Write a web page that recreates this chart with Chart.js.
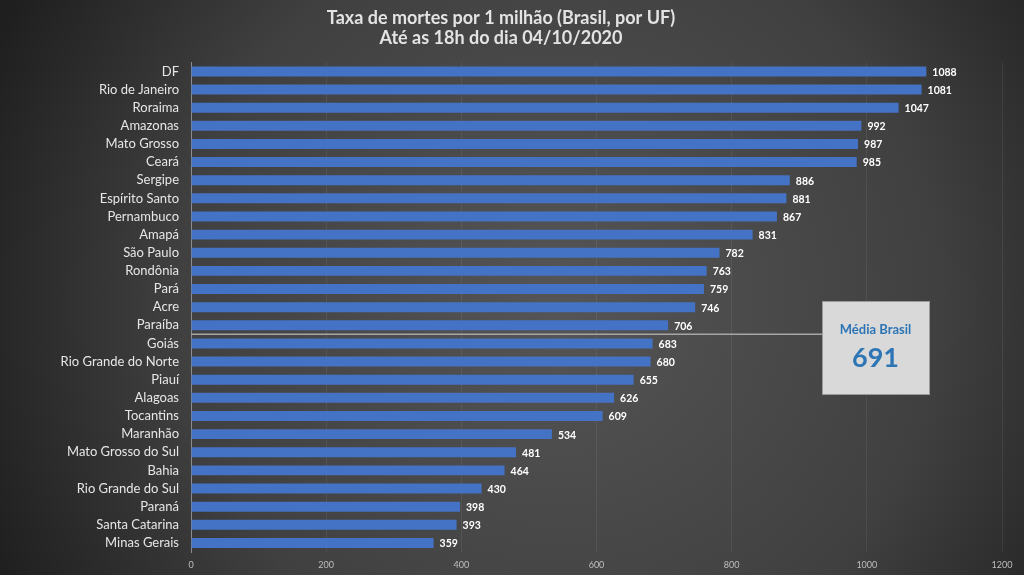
<!DOCTYPE html>
<html>
<head>
<meta charset="utf-8">
<script src="https://cdn.jsdelivr.net/npm/chart.js@4.4.0/dist/chart.umd.min.js"></script>
<style>
  html, body { margin: 0; padding: 0; background: #333; overflow: hidden; }
</style>
</head>
<body>
<canvas id="grafico" width="1024" height="575"></canvas>
<script>
// Dados (taxa de mortes por 1 milhão, por UF)
const estados = ["DF", "Rio de Janeiro", "Roraima", "Amazonas", "Mato Grosso", "Ceará",
  "Sergipe", "Espírito Santo", "Pernambuco", "Amapá", "São Paulo", "Rondônia", "Pará",
  "Acre", "Paraíba", "Goiás", "Rio Grande do Norte", "Piauí", "Alagoas", "Tocantins",
  "Maranhão", "Mato Grosso do Sul", "Bahia", "Rio Grande do Sul", "Paraná",
  "Santa Catarina", "Minas Gerais"];
const taxas = [1088, 1081, 1047, 992, 987, 985, 886, 881, 867, 831, 782, 763, 759,
  746, 706, 683, 680, 655, 626, 609, 534, 481, 464, 430, 398, 393, 359];
const mediaBrasil = 691;
const ticksX = [0, 200, 400, 600, 800, 1000, 1200];
const titulo = ["Taxa de mortes por 1 milhão (Brasil, por UF)", "Até as 18h do dia 04/10/2020"];

const fonte = "Lato, 'Open Sans', sans-serif";

// Fundo escuro com gradiente radial
const fundo = {
  id: "fundo",
  beforeDraw(chart) {
    const c = chart.ctx;
    const g = c.createRadialGradient(560, 300, 20, 560, 300, 620);
    g.addColorStop(0, "#545454");
    g.addColorStop(0.6, "#404040");
    g.addColorStop(1, "#1f1f1f");
    c.save();
    c.fillStyle = g;
    c.fillRect(0, 0, chart.width, chart.height);
    c.restore();
  }
};

// Linha da média e caixa "Média Brasil"
const caixaMedia = {
  id: "caixaMedia",
  afterDraw(chart) {
    const c = chart.ctx;
    const x = chart.scales.x, y = chart.scales.y;
    const yLinha = (y.getPixelForValue(14) + y.getPixelForValue(15)) / 2;
    const bx = 822, by = 301, bw = 107, bh = 93;
    c.save();
    c.strokeStyle = "#a6a6a6";
    c.lineWidth = 1.5;
    c.beginPath();
    c.moveTo(x.left, yLinha);
    c.lineTo(bx, yLinha);
    c.stroke();
    c.fillStyle = "#d9d9d9";
    c.fillRect(bx, by, bw, bh);
    c.strokeStyle = "#9a9a9a";
    c.lineWidth = 1;
    c.strokeRect(bx + 0.5, by + 0.5, bw, bh);
    c.fillStyle = "#2e75b6";
    c.textAlign = "center";
    c.textBaseline = "middle";
    c.font = "bold 13px " + fonte;
    c.fillText("Média Brasil", bx + bw / 2, by + 29);
    c.font = "bold 27px " + fonte;
    c.fillText(String(mediaBrasil), bx + bw / 2, by + 57);
    c.restore();
  }
};

// Rótulos de valor no fim de cada barra
const rotulos = {
  id: "rotulos",
  afterDatasetsDraw(chart) {
    const c = chart.ctx;
    const meta = chart.getDatasetMeta(0);
    c.save();
    c.fillStyle = "#ffffff";
    c.font = "bold 10.5px " + fonte;
    c.textBaseline = "middle";
    meta.data.forEach((barra, i) => {
      c.fillText(taxas[i], barra.x + 6, barra.y + 1);
    });
    c.restore();
  }
};

const ctx = document.getElementById("grafico").getContext("2d");
const grafico = new Chart(ctx, {
  type: "bar",
  data: {
    labels: estados,
    datasets: [{
      data: taxas,
      backgroundColor(context) {
        const el = context.element;
        if (!el || el.y === undefined || isNaN(el.y)) return "#4472c4";
        const g = context.chart.ctx.createLinearGradient(0, el.y - 5, 0, el.y + 5);
        g.addColorStop(0, "#2f5597");
        g.addColorStop(0.35, "#4a7fd6");
        g.addColorStop(0.7, "#3d6bc0");
        g.addColorStop(1, "#1f3f7a");
        return g;
      },
      barPercentage: 0.55,
      categoryPercentage: 1
    }]
  },
  options: {
    indexAxis: "y",
    responsive: false,
    animation: false,
    layout: { padding: { left: 0, right: 22, top: 0, bottom: 0 } },
    plugins: {
      legend: { display: false },
      tooltip: { enabled: false },
      title: {
        display: true,
        text: titulo,
        color: "#e3e3e3",
        font: { family: fonte, size: 18, weight: "bold", lineHeight: 1.12 },
        padding: { top: 8, bottom: 14 }
      }
    },
    scales: {
      x: {
        min: 0,
        max: 1200,
        afterBuildTicks(scale) { scale.ticks = ticksX.map(v => ({ value: v })); },
        afterFit(scale) { scale.height = 23; },
        grid: { color: "rgba(255,255,255,0.07)", drawTicks: false },
        border: { display: false },
        ticks: {
          color: "#bfbfbf", font: { family: fonte, size: 9 }, padding: 8, maxRotation: 0,
          callback: v => String(v)
        }
      },
      y: {
        afterFit(scale) { scale.width = 191; },
        grid: { display: false },
        border: { color: "#8c8c8c", width: 1 },
        ticks: { color: "#e6e6e6", font: { family: fonte, size: 13 }, padding: 4, autoSkip: false }
      }
    }
  },
  plugins: [fundo, rotulos, caixaMedia]
});
</script>
</body>
</html>
